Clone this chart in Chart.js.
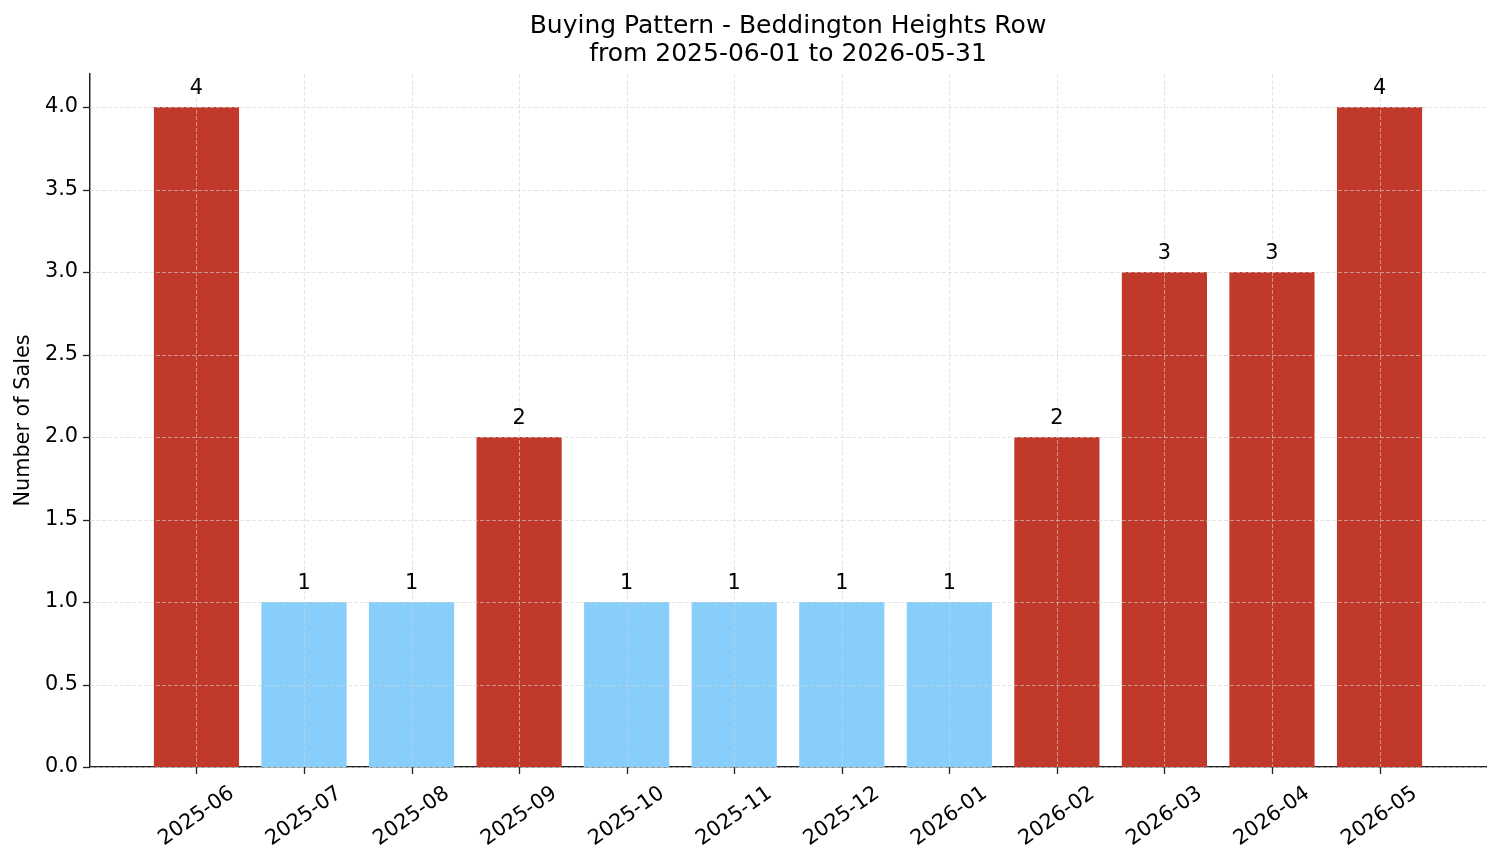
<!DOCTYPE html>
<html>
<head>
<meta charset="utf-8">
<script src="https://cdn.jsdelivr.net/npm/chart.js@4.4.0/dist/chart.umd.min.js"></script>
<style>
  html, body { margin: 0; padding: 0; background: #fff; }
  #wrap { width: 1501px; height: 863px; }
</style>
</head>
<body>
<div id="wrap"><canvas id="chart" width="1501" height="863"></canvas></div>
<script>
// chart data
const months = ["2025-06", "2025-07", "2025-08", "2025-09", "2025-10", "2025-11",
  "2025-12", "2026-01", "2026-02", "2026-03", "2026-04", "2026-05"];
const sales = [4, 1, 1, 2, 1, 1, 1, 1, 2, 3, 3, 4];
const yTicks = [0, 0.5, 1, 1.5, 2, 2.5, 3, 3.5, 4];

const RED = "#c0392b";
const BLUE = "#87cefa";
const FONT = "'DejaVu Sans', sans-serif";
const barColors = sales.map(v => (v >= 2 ? RED : BLUE));

// grid over bars, tick marks, value labels and rotated month labels
const overlay = {
  id: "overlay",
  afterDatasetsDraw(chart) {
    const { ctx, chartArea: a, scales } = chart;
    const x = scales.x, y = scales.y;
    ctx.save();
    ctx.strokeStyle = "rgba(212,212,212,0.75)";
    ctx.lineWidth = 0.8;
    ctx.setLineDash([4, 2]);
    yTicks.forEach(t => {
      const py = Math.round(y.getPixelForValue(t)) + 0.5;
      ctx.beginPath(); ctx.moveTo(a.left, py); ctx.lineTo(a.right, py); ctx.stroke();
    });
    months.forEach((m, i) => {
      const px = Math.round(x.getPixelForValue(i)) + 0.5;
      ctx.beginPath(); ctx.moveTo(px, a.top); ctx.lineTo(px, a.bottom); ctx.stroke();
    });
    ctx.setLineDash([]);

    // tick marks
    ctx.strokeStyle = "#222";
    ctx.lineWidth = 1.3;
    yTicks.forEach(t => {
      const py = Math.round(y.getPixelForValue(t)) + 0.5;
      ctx.beginPath(); ctx.moveTo(a.left - 7, py); ctx.lineTo(a.left, py); ctx.stroke();
    });
    months.forEach((m, i) => {
      const px = Math.round(x.getPixelForValue(i)) + 0.5;
      ctx.beginPath(); ctx.moveTo(px, a.bottom); ctx.lineTo(px, a.bottom + 7); ctx.stroke();
    });

    // value labels
    ctx.fillStyle = "#000";
    ctx.font = "20.8px " + FONT;
    ctx.textAlign = "center";
    ctx.textBaseline = "alphabetic";
    sales.forEach((v, i) => {
      ctx.fillText(String(v), x.getPixelForValue(i), y.getPixelForValue(v) - 13);
    });

    // rotated month labels, centred on tick like matplotlib
    const ang = 35 * Math.PI / 180;
    const h = 24;
    months.forEach((m, i) => {
      const w = ctx.measureText(m).width;
      const H = w * Math.sin(ang) + h * Math.cos(ang);
      const cx = x.getPixelForValue(i);
      const cy = a.bottom + 14.6 + H / 2;
      ctx.save();
      ctx.translate(cx, cy);
      ctx.rotate(-ang);
      ctx.textBaseline = "middle";
      ctx.fillText(m, 0, 0);
      ctx.restore();
    });
    ctx.restore();
  }
};

const ctx = document.getElementById("chart").getContext("2d");
new Chart(ctx, {
  type: "bar",
  data: {
    datasets: [{
      data: sales.map((v, i) => ({ x: i, y: v })),
      backgroundColor: barColors,
      categoryPercentage: 0.8,
      barPercentage: 1.0,
      borderWidth: 0,
    }],
  },
  options: {
    responsive: false,
    devicePixelRatio: 1,
    animation: false,
    layout: { padding: { left: 0, right: 15, top: 0, bottom: 0 } },
    plugins: {
      legend: { display: false },
      tooltip: { enabled: false },
      title: {
        display: true,
        fullSize: false,
        text: ["Buying Pattern - Beddington Heights Row", "from 2025-06-01 to 2026-05-31"],
        color: "#000",
        font: { family: FONT, size: 25, weight: "normal", lineHeight: 1.12 },
        padding: { top: 12, bottom: 6 },
      },
    },
    scales: {
      x: {
        type: "linear",
        offset: false,
        min: -0.99,
        max: 11.99,
        grid: { display: false, offset: false },
        ticks: { display: false },
        border: { display: true, color: "#222", width: 1.5 },
        afterFit(s) { s.height = 96; },
      },
      y: {
        min: 0,
        max: 4.2,
        grid: { display: false, drawTicks: true, tickLength: 7 },
        border: { display: true, color: "#222", width: 1.5 },
        afterBuildTicks(s) { s.ticks = yTicks.map(v => ({ value: v })); },
        ticks: {
          color: "#000",
          padding: 5,
          font: { family: FONT, size: 20.8 },
          callback: v => Number(v).toFixed(1),
        },
        title: {
          display: true,
          text: "Number of Sales",
          color: "#000",
          font: { family: FONT, size: 20.8 },
          padding: { top: 11, bottom: 0 },
        },
        afterFit(s) { s.width = 90; },
      },
    },
  },
  plugins: [overlay],
});
</script>
</body>
</html>
